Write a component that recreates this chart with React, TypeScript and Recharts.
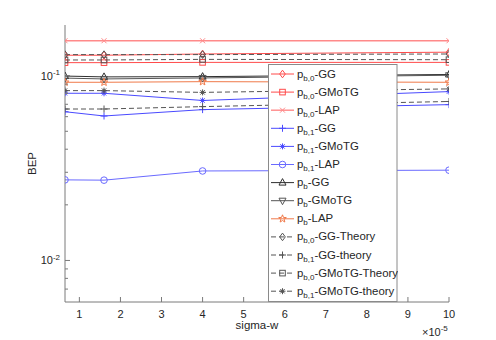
import React from 'react';
import { LineChart, Line, XAxis, YAxis } from 'recharts';

// ---- data ----
const sigmaW = [0.65, 1.6, 4, 10];
const pb0GG = [0.129, 0.129, 0.131, 0.134];
const pb0GMoTG = [0.1176, 0.1176, 0.118, 0.118];
const pb0LAP = [0.1545, 0.1545, 0.1545, 0.1545];
const pb1GG = [0.0638, 0.0605, 0.0655, 0.0697];
const pb1GMoTG = [0.0803, 0.0803, 0.0734, 0.082];
const pb1LAP = [0.0273, 0.0272, 0.0305, 0.0308];
const pbGG = [0.0995, 0.0985, 0.0988, 0.1015];
const pbGMoTG = [0.097, 0.096, 0.0972, 0.1005];
const pbLAP = [0.0921, 0.0921, 0.0928, 0.0921];
const pb0GGTheory = [0.13, 0.13, 0.13, 0.131];
const pb1GGTheory = [0.066, 0.066, 0.068, 0.0725];
const pb0GMoTGTheory = [0.1216, 0.1216, 0.1225, 0.122];
const pb1GMoTGTheory = [0.083, 0.083, 0.0812, 0.0848];

const xTicks = [1, 2, 3, 4, 5, 6, 7, 8, 9, 10];
const yMajor = [0.01, 0.1];
const yTicks = [0.007, 0.008, 0.009, 0.01, 0.02, 0.03, 0.04, 0.05, 0.06, 0.07, 0.08, 0.09, 0.1];
const yDomain = [0.00596, 0.188];
const xDomain = [0.65, 10];

const FONT = '"Liberation Sans", Arial, Helvetica, sans-serif';
const AXIS = '#7a7a7a';
const TXT = '#262626';

type S = { key: string; vals: number[]; sub: string; rest: string; color: string; shape: string; dash?: string; w?: number };

const series: S[] = [
  { key: 'pb0GG', vals: pb0GG, sub: 'b,0', rest: '-GG', color: '#ff4a4a', shape: 'diamond' },
  { key: 'pb0GMoTG', vals: pb0GMoTG, sub: 'b,0', rest: '-GMoTG', color: '#ff4a4a', shape: 'square' },
  { key: 'pb0LAP', vals: pb0LAP, sub: 'b,0', rest: '-LAP', color: '#ff8a8a', shape: 'x', w: 1.4 },
  { key: 'pb1GG', vals: pb1GG, sub: 'b,1', rest: '-GG', color: '#4a4aff', shape: 'plus' },
  { key: 'pb1GMoTG', vals: pb1GMoTG, sub: 'b,1', rest: '-GMoTG', color: '#4a4aff', shape: 'asterisk' },
  { key: 'pb1LAP', vals: pb1LAP, sub: 'b,1', rest: '-LAP', color: '#6a6aff', shape: 'circle' },
  { key: 'pbGG', vals: pbGG, sub: 'b', rest: '-GG', color: '#303030', shape: 'tri' },
  { key: 'pbGMoTG', vals: pbGMoTG, sub: 'b', rest: '-GMoTG', color: '#555555', shape: 'trid' },
  { key: 'pbLAP', vals: pbLAP, sub: 'b', rest: '-LAP', color: '#f07a4a', shape: 'star' },
  { key: 'pb0GGTheory', vals: pb0GGTheory, sub: 'b,0', rest: '-GG-Theory', color: '#555555', shape: 'diamond', dash: '5 3' },
  { key: 'pb1GGTheory', vals: pb1GGTheory, sub: 'b,1', rest: '-GG-theory', color: '#555555', shape: 'plus', dash: '5 3' },
  { key: 'pb0GMoTGTheory', vals: pb0GMoTGTheory, sub: 'b,0', rest: '-GMoTG-Theory', color: '#555555', shape: 'square', dash: '5 3' },
  { key: 'pb1GMoTGTheory', vals: pb1GMoTGTheory, sub: 'b,1', rest: '-GMoTG-theory', color: '#555555', shape: 'asterisk', dash: '5 3' },
];

const data = sigmaW.map((x, i) => {
  const row: any = { x };
  series.forEach((s) => { row[s.key] = s.vals[i]; });
  return row;
});

function marker(shape: string, cx: number, cy: number, color: string, key?: string) {
  const common = { stroke: color, strokeWidth: 1, fill: 'none' };
  switch (shape) {
    case 'diamond':
      return <polygon key={key} points={`${cx},${cy - 3.8} ${cx + 2.8},${cy} ${cx},${cy + 3.8} ${cx - 2.8},${cy}`} {...common} />;
    case 'square':
      return <rect key={key} x={cx - 2.8} y={cy - 2.8} width={5.6} height={5.6} {...common} />;
    case 'x':
      return (
        <g key={key}>
          <line x1={cx - 2.5} y1={cy - 2.5} x2={cx + 2.5} y2={cy + 2.5} {...common} />
          <line x1={cx - 2.5} y1={cy + 2.5} x2={cx + 2.5} y2={cy - 2.5} {...common} />
        </g>
      );
    case 'plus':
      return (
        <g key={key}>
          <line x1={cx - 3.5} y1={cy} x2={cx + 3.5} y2={cy} {...common} />
          <line x1={cx} y1={cy - 3.5} x2={cx} y2={cy + 3.5} {...common} />
        </g>
      );
    case 'asterisk':
      return (
        <g key={key}>
          <line x1={cx - 3} y1={cy} x2={cx + 3} y2={cy} {...common} />
          <line x1={cx} y1={cy - 3} x2={cx} y2={cy + 3} {...common} />
          <line x1={cx - 2.2} y1={cy - 2.2} x2={cx + 2.2} y2={cy + 2.2} {...common} />
          <line x1={cx - 2.2} y1={cy + 2.2} x2={cx + 2.2} y2={cy - 2.2} {...common} />
          <circle cx={cx} cy={cy} r={1.3} fill={color} stroke="none" />
        </g>
      );
    case 'circle':
      return <circle key={key} cx={cx} cy={cy} r={3.3} {...common} />;
    case 'tri':
      return <polygon key={key} points={`${cx},${cy - 4} ${cx + 3.5},${cy + 2.5} ${cx - 3.5},${cy + 2.5}`} {...common} />;
    case 'trid':
      return <polygon key={key} points={`${cx},${cy + 4} ${cx + 3.5},${cy - 2.5} ${cx - 3.5},${cy - 2.5}`} {...common} />;
    case 'star': {
      const pts: string[] = [];
      for (let k = 0; k < 10; k++) {
        const r = k % 2 === 0 ? 4 : 1.7;
        const a = -Math.PI / 2 + (k * Math.PI) / 5;
        pts.push(`${cx + r * Math.cos(a)},${cy + r * Math.sin(a)}`);
      }
      return <polygon key={key} points={pts.join(' ')} {...common} />;
    }
    default:
      return <g key={key} />;
  }
}

const BottomTick = (props: any) => {
  const { x, y, payload } = props;
  return (
    <g>
      <line x1={x} y1={y} x2={x} y2={y - 5} stroke={AXIS} />
      <text x={x} y={y + 16} textAnchor="middle" fontSize={11} fill={TXT} fontFamily={FONT}>{payload.value}</text>
    </g>
  );
};

const TopTick = (props: any) => {
  const { x, y } = props;
  return <line x1={x} y1={y} x2={x} y2={y + 5} stroke={AXIS} />;
};

const LeftTick = (props: any) => {
  const { x, y, payload } = props;
  const major = yMajor.some((m) => Math.abs(m - payload.value) < 1e-9);
  const exp = Math.round(Math.log10(payload.value));
  return (
    <g>
      <line x1={x} y1={y} x2={x + (major ? 5 : 3)} y2={y} stroke={AXIS} />
      {major && (
        <text x={x - 5} y={y + 4} textAnchor="end" fontSize={11} fill={TXT} fontFamily={FONT}>
          <tspan>10</tspan>
          <tspan dy={-4.5} fontSize={8}>{exp}</tspan>
        </text>
      )}
    </g>
  );
};

const RightTick = (props: any) => {
  const { x, y, payload } = props;
  const major = yMajor.some((m) => Math.abs(m - payload.value) < 1e-9);
  return <line x1={x} y1={y} x2={x - (major ? 5 : 3)} y2={y} stroke={AXIS} />;
};

const Legend = () => {
  const rowH = 18.1;
  return (
    <svg style={{ position: 'absolute', left: 268, top: 64 }} width={130} height={239}>
      <rect x={0.5} y={0.5} width={128.5} height={237} fill="#fff" stroke="#8a8a8a" strokeWidth={1} />
      {series.map((s, i) => {
        const cy = 10 + i * rowH;
        return (
          <g key={s.key}>
            <line x1={3} y1={cy} x2={26} y2={cy} stroke={s.color} strokeWidth={s.w || 1} strokeDasharray={s.dash} />
            {marker(s.shape, 14.5, cy, s.color)}
            <text x={29} y={cy + 3.5} fontSize={11.4} fill={TXT} fontFamily={FONT}>
              <tspan>p</tspan>
              <tspan dy={3} fontSize={8}>{s.sub}</tspan>
              <tspan dy={-3}>{s.rest}</tspan>
            </text>
          </g>
        );
      })}
    </svg>
  );
};

export default function App() {
  return (
    <div style={{ position: 'absolute', left: 0, top: 0, width: 496, height: 340, background: '#fff' }}>
      <LineChart width={496} height={340} data={data} margin={{ top: 25, right: 47, left: 0, bottom: 0 }}>
        <XAxis
          dataKey="x"
          type="number"
          domain={xDomain}
          allowDataOverflow
          ticks={xTicks}
          interval={0}
          height={38}
          tickSize={0}
          tickMargin={0}
          tickLine={false}
          tick={<BottomTick />}
          axisLine={{ stroke: AXIS }}
        />
        <XAxis
          xAxisId="top"
          dataKey="x"
          orientation="top"
          type="number"
          domain={xDomain}
          allowDataOverflow
          ticks={xTicks}
          interval={0}
          height={0}
          tickSize={0}
          tickMargin={0}
          tickLine={false}
          tick={<TopTick />}
          axisLine={{ stroke: AXIS }}
        />
        <YAxis
          type="number"
          scale="log"
          domain={yDomain}
          allowDataOverflow
          ticks={yTicks}
          interval={0}
          width={65}
          tickSize={0}
          tickMargin={0}
          tickLine={false}
          tick={<LeftTick />}
          axisLine={{ stroke: AXIS }}
        />
        <YAxis
          yAxisId="right"
          orientation="right"
          type="number"
          scale="log"
          domain={yDomain}
          allowDataOverflow
          ticks={yTicks}
          interval={0}
          width={0}
          tickSize={0}
          tickMargin={0}
          tickLine={false}
          tick={<RightTick />}
          axisLine={{ stroke: AXIS }}
        />
        {series.map((s) => (
          <Line
            key={s.key}
            dataKey={s.key}
            type="linear"
            stroke={s.color}
            strokeWidth={s.w || 1}
            strokeDasharray={s.dash}
            isAnimationActive={false}
            dot={(p: any) => marker(s.shape, p.cx, p.cy, s.color, `${s.key}-${p.index}`)}
            activeDot={false}
          />
        ))}
      </LineChart>
      <Legend />
      <svg style={{ position: 'absolute', left: 0, top: 0, pointerEvents: 'none' }} width={496} height={340}>
        <text x={257} y={329} textAnchor="middle" fontSize={11.5} fill={TXT} fontFamily={FONT}>sigma-w</text>
        <text transform="translate(36,163.5) rotate(-90)" textAnchor="middle" fontSize={11.5} fill={TXT} fontFamily={FONT}>BEP</text>
        <text x={422} y={336} fontSize={11} fill={TXT} fontFamily={FONT}>
          <tspan>×10</tspan>
          <tspan dy={-5} fontSize={8}>-5</tspan>
        </text>
      </svg>
    </div>
  );
}
